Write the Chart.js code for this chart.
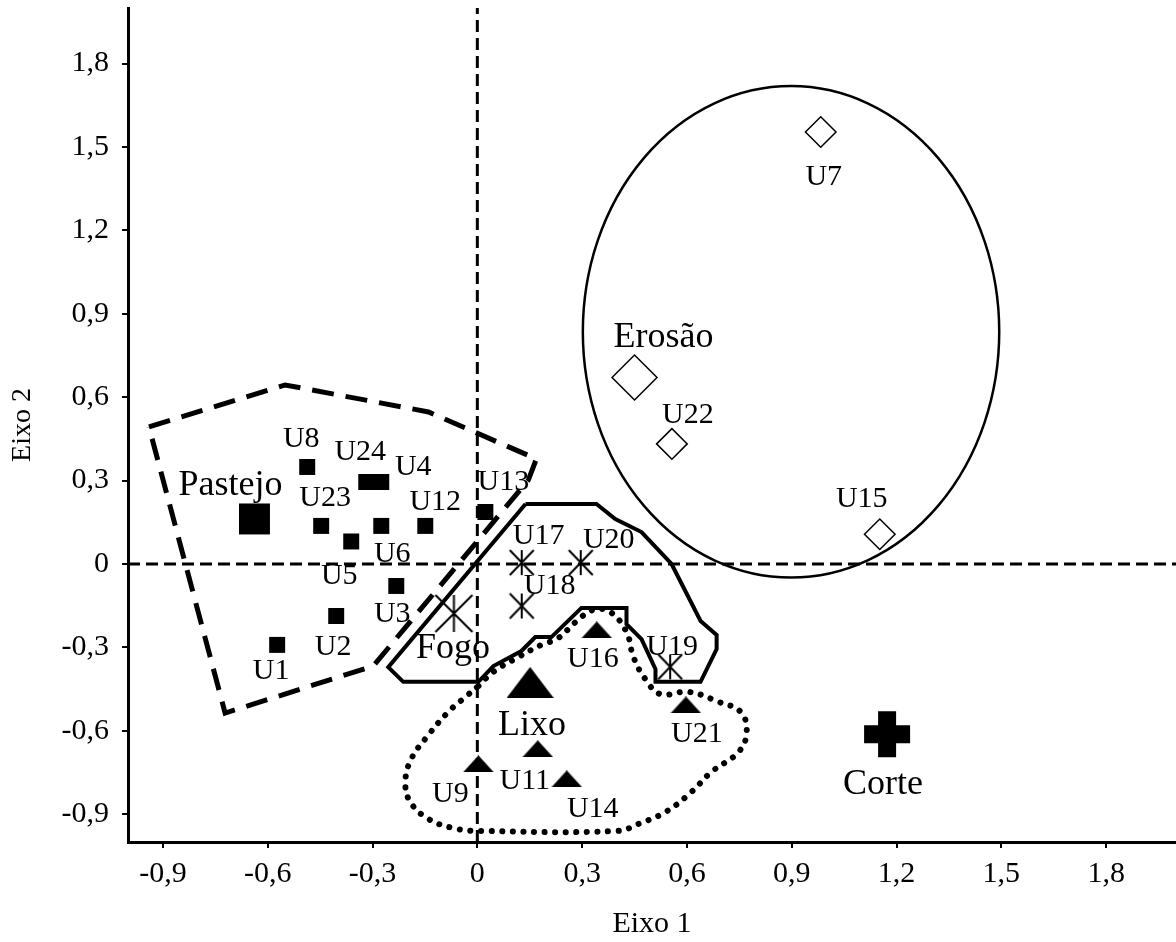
<!DOCTYPE html>
<html>
<head>
<meta charset="utf-8">
<script src="https://cdn.jsdelivr.net/npm/chart.js@4"></script>
<style>
  html, body { margin: 0; background: #fff; }
</style>
</head>
<body>
<canvas id="chart" width="1176" height="942"></canvas>
<script>
// axis ticks (both axes use the same ones)
const tickValues = [-0.9, -0.6, -0.3, 0, 0.3, 0.6, 0.9, 1.2, 1.5, 1.8];
const tickLabels = ['-0,9', '-0,6', '-0,3', '0', '0,3', '0,6', '0,9', '1,2', '1,5', '1,8'];

// sample units, by the factor they belong to
const pastejoNames = ['U1', 'U2', 'U3', 'U4', 'U5', 'U6', 'U8', 'U12', 'U13', 'U23', 'U24'];
const pastejoX = [-0.573, -0.404, -0.232, -0.275, -0.361, -0.275, -0.487, -0.149, 0.023, -0.447, -0.318];
const pastejoY = [-0.291, -0.187, -0.079, 0.295, 0.081, 0.137, 0.349, 0.137, 0.187, 0.137, 0.295];

const fogoNames = ['U17', 'U18', 'U19', 'U20'];
const fogoX = [0.127, 0.127, 0.552, 0.296];
const fogoY = [0.005, -0.151, -0.370, 0.005];

const lixoNames = ['U9', 'U11', 'U14', 'U16', 'U21'];
const lixoX = [0.003, 0.173, 0.256, 0.342, 0.597];
const lixoY = [-0.719, -0.665, -0.773, -0.237, -0.507];

const erosaoNames = ['U7', 'U15', 'U22'];
const erosaoX = [0.983, 1.152, 0.557];
const erosaoY = [1.554, 0.107, 0.432];

// the factors themselves
const factorNames = ['Pastejo', 'Fogo', 'Lixo', 'Erosão', 'Corte'];
const factorX = [-0.638, -0.067, 0.151, 0.450, 1.173];
const factorY = [0.162, -0.178, -0.426, 0.671, -0.612];

// group outlines
const pastejoHullX = [-0.940, -0.550, -0.140, 0.169, 0.146, -0.298, -0.722];
const pastejoHullY = [0.493, 0.644, 0.547, 0.378, 0.302, -0.367, -0.536];

const fogoHullX = [0.138, 0.341, 0.395, 0.470, 0.556, 0.639, 0.685, 0.685, 0.639, 0.510, 0.510,
  0.470, 0.427, 0.427, 0.298, 0.212, 0.166, 0.126, 0.046, 0.003, -0.212, -0.255];
const fogoHullY = [0.216, 0.216, 0.162, 0.115, 0.0, -0.205, -0.255, -0.306, -0.424, -0.424, -0.378,
  -0.270, -0.216, -0.158, -0.158, -0.263, -0.263, -0.313, -0.367, -0.424, -0.424, -0.371];

const lixoHullX = [0.003, 0.046, 0.117, 0.183, 0.232, 0.281, 0.332, 0.381, 0.427, 0.447, 0.481,
  0.524, 0.605, 0.691, 0.754, 0.771, 0.748, 0.670, 0.613, 0.539, 0.461, 0.404, 0.003, -0.069,
  -0.140, -0.192, -0.206, -0.189, -0.140, -0.083, -0.034];
const lixoHullY = [-0.439, -0.388, -0.335, -0.291, -0.266, -0.209, -0.165, -0.173, -0.245, -0.335, -0.414,
  -0.468, -0.460, -0.496, -0.532, -0.604, -0.676, -0.748, -0.820, -0.892, -0.935, -0.960, -0.960, -0.950,
  -0.917, -0.856, -0.784, -0.701, -0.615, -0.532, -0.478];

const erosaoEllipseCenter = [0.898, 0.835];
const erosaoEllipseRadius = [0.596, 0.884];

// label placement, pixels from the marker: [dx, baseline dy]
const labelShift = {
  Pastejo: [-24, -24], U8: [-6, -20], U24: [-6, -22], U4: [32, -7], U23: [4, -20],
  U12: [10, -16], U13: [18, -22], U6: [11, 36], U5: [-12, 43], U3: [-4, 36],
  U2: [-3, 39], U1: [-6, 34], Fogo: [-1, 45], U17: [17, -19], U20: [28, -15],
  U18: [28, -12], U19: [2, -12], U16: [-4, 37], Lixo: [2, 53], U21: [11, 37],
  U9: [-28, 38], U11: [-13, 40], U14: [26, 38], U7: [3, 53], 'Erosão': [29, -30],
  U22: [16, -21], U15: [-18, -27], Corte: [-4, 60]
};

const FONT = "'Liberation Serif', 'Times New Roman', serif";

const xy = (xs, ys) => xs.map((x, i) => ({ x: x, y: ys[i] }));
const closed = (xs, ys) => { const p = xy(xs, ys); p.push(p[0]); return p; };

// flattened triangle and 6-arm asterisk markers
function triangle(w, h) {
  const c = document.createElement('canvas');
  c.width = w; c.height = h;
  const g = c.getContext('2d');
  g.fillStyle = '#000';
  g.beginPath();
  g.moveTo(w / 2, 0); g.lineTo(w, h); g.lineTo(0, h);
  g.closePath(); g.fill();
  return c;
}
function asterisk(w, h, lw) {
  const c = document.createElement('canvas');
  c.width = w + 4; c.height = h + 4;
  const g = c.getContext('2d');
  g.strokeStyle = '#000';
  g.lineWidth = lw;
  g.beginPath();
  g.moveTo(2, 2); g.lineTo(w + 2, h + 2);
  g.moveTo(w + 2, 2); g.lineTo(2, h + 2);
  g.moveTo(w / 2 + 2, 2); g.lineTo(w / 2 + 2, h + 2);
  g.stroke();
  return c;
}

const ellipsePlugin = {
  id: 'erosaoEllipse',
  beforeDatasetsDraw(chart) {
    const { ctx } = chart;
    const sx = chart.scales.x;
    const sy = chart.scales.y;
    const cx = sx.getPixelForValue(erosaoEllipseCenter[0]);
    const cy = sy.getPixelForValue(erosaoEllipseCenter[1]);
    const rx = Math.abs(sx.getPixelForValue(erosaoEllipseCenter[0] + erosaoEllipseRadius[0]) - cx);
    const ry = Math.abs(sy.getPixelForValue(erosaoEllipseCenter[1] + erosaoEllipseRadius[1]) - cy);
    ctx.save();
    ctx.strokeStyle = '#000';
    ctx.lineWidth = 2.5;
    ctx.beginPath();
    ctx.ellipse(cx, cy, rx, ry, 0, 0, Math.PI * 2);
    ctx.stroke();
    ctx.restore();
  }
};

const labelPlugin = {
  id: 'pointLabels',
  afterDatasetsDraw(chart) {
    const { ctx } = chart;
    const sx = chart.scales.x;
    const sy = chart.scales.y;
    const put = (names, xs, ys, size) => {
      ctx.font = size + 'px ' + FONT;
      names.forEach((n, i) => {
        const s = labelShift[n] || [0, 0];
        ctx.fillText(n, sx.getPixelForValue(xs[i]) + s[0], sy.getPixelForValue(ys[i]) + s[1]);
      });
    };
    ctx.save();
    ctx.fillStyle = '#000';
    ctx.textAlign = 'center';
    ctx.textBaseline = 'alphabetic';
    put(pastejoNames, pastejoX, pastejoY, 30);
    put(fogoNames, fogoX, fogoY, 30);
    put(lixoNames, lixoX, lixoY, 30);
    put(erosaoNames, erosaoX, erosaoY, 30);
    put(factorNames, factorX, factorY, 36);
    ctx.restore();
  }
};

const pt = (i) => [{ x: factorX[i], y: factorY[i] }];

const axis = (title, isX) => ({
  type: 'linear',
  min: -1,
  max: 2,
  afterBuildTicks: (s) => { s.ticks = tickValues.map(v => ({ value: v })); },
  afterFit: (s) => {
    if (isX) { s.height = 100; } else { s.width = 128; }
    s.paddingTop = 0; s.paddingBottom = 0; s.paddingLeft = 0; s.paddingRight = 0;
  },
  ticks: {
    callback: (v, i) => tickLabels[i],
    font: { family: FONT, size: 30 },
    color: '#000',
    padding: isX ? 8 : 13,
    maxRotation: 0,
    autoSkip: false
  },
  grid: { drawOnChartArea: false, drawTicks: true, tickLength: 6, color: '#000', lineWidth: 2 },
  border: { display: true, color: '#000', width: 3 },
  title: {
    display: true,
    text: title,
    color: '#000',
    font: { family: FONT, size: isX ? 30 : 28 },
    padding: isX ? { top: 0, bottom: 0 } : { top: 6, bottom: 4 }
  }
});

// eslint-disable-next-line
const chart = new Chart(document.getElementById('chart'), {
  type: 'scatter',
  data: {
    datasets: [
      // markers
      { data: xy(pastejoX, pastejoY), pointStyle: 'rect', pointRadius: 11.3, pointBackgroundColor: '#000', pointBorderWidth: 0, order: 0 },
      { data: pt(0), pointStyle: 'rect', pointRadius: 21.9, pointBackgroundColor: '#000', pointBorderWidth: 0, order: 0 },
      { data: xy(fogoX, fogoY), pointStyle: asterisk(24, 25, 2), pointRadius: 12, order: 0 },
      { data: pt(1), pointStyle: asterisk(37, 37, 2), pointRadius: 18, order: 0 },
      { data: xy(lixoX, lixoY), pointStyle: triangle(31, 17), pointRadius: 12, order: 0 },
      { data: pt(2), pointStyle: triangle(47, 31), pointRadius: 20, order: 0 },
      { data: xy(erosaoX, erosaoY), pointStyle: 'rectRot', pointRadius: 15.3, pointBackgroundColor: '#fff', pointBorderColor: '#000', pointBorderWidth: 1.5, order: 0 },
      { data: pt(3), pointStyle: 'rectRot', pointRadius: 22.5, pointBackgroundColor: '#fff', pointBorderColor: '#000', pointBorderWidth: 1.5, order: 0 },
      { data: pt(4), pointStyle: 'cross', pointRadius: 23, pointBorderColor: '#000', pointBorderWidth: 18, order: 0 },
      // outlines
      { data: closed(pastejoHullX, pastejoHullY), showLine: true, pointRadius: 0, borderColor: '#000', borderWidth: 5, borderDash: [22, 12], order: 2 },
      { data: closed(fogoHullX, fogoHullY), showLine: true, pointRadius: 0, borderColor: '#000', borderWidth: 4, order: 2 },
      { data: closed(lixoHullX, lixoHullY), showLine: true, pointRadius: 0, borderColor: '#000', borderWidth: 6, borderDash: [0.1, 10.5], borderCapStyle: 'round', tension: 0.4, order: 2 },
      // zero lines
      { data: [{ x: -1, y: 0 }, { x: 2, y: 0 }], showLine: true, pointRadius: 0, borderColor: '#000', borderWidth: 3, borderDash: [12, 6], order: 3 },
      { data: [{ x: 0, y: -1 }, { x: 0, y: 2 }], showLine: true, pointRadius: 0, borderColor: '#000', borderWidth: 3, borderDash: [12, 6], order: 3 }
    ]
  },
  options: {
    responsive: false,
    animation: false,
    layout: { autoPadding: false, padding: { top: 8, right: 0, left: 0, bottom: 0 } },
    plugins: { legend: { display: false }, tooltip: { enabled: false } },
    scales: {
      x: axis('Eixo 1', true),
      y: axis('Eixo 2', false)
    }
  },
  plugins: [ellipsePlugin, labelPlugin]
});
</script>
</body>
</html>
